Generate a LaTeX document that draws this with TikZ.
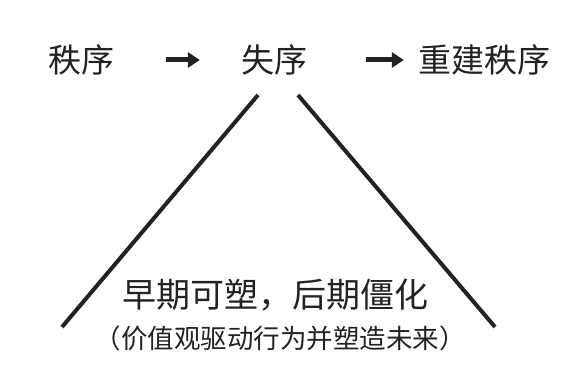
\documentclass[tikz,border=0pt]{standalone}
\usepackage{fontspec}
\setmainfont{Noto Sans CJK SC}
\usepackage{xcolor}
\usetikzlibrary{arrows.meta, positioning}

\begin{document}
\begin{tikzpicture}[
    x=1pt, y=-1pt,
    word/.style={inner sep=0pt, text=ink, font=\fontsize{33}{38}\selectfont},
    flow/.style={ink, line width=5pt, -{Triangle[length=12pt, width=15pt]}},
    side/.style={ink, line width=4pt}
]
% Define colors
\definecolor{ink}{RGB}{34,34,34}

\useasboundingbox (0,0) rectangle (565,377);

% Top row: stages
\node[word] (order) at (81,60) {秩序};
\node[word] (disorder) at (274,60) {失序};
\node[word] (rebuild) at (484,60) {重建秩序};

\draw[flow, shorten <=52pt, shorten >=41pt] (order.east) -- (disorder.west);
\draw[flow, shorten <=59pt, shorten >=14pt] (disorder.east) -- (rebuild.west);

% Inverted V
\coordinate (leftTop) at (258,95);
\coordinate (leftEnd) at (62,327);
\coordinate (rightTop) at (298,95);
\coordinate (rightEnd) at (495,327);
\draw[side] (leftTop) -- (leftEnd);
\draw[side] (rightTop) -- (rightEnd);

% Bottom captions
\node[word, font=\fontsize{34}{40}\selectfont] (plastic) at (275,295) {早期可塑，后期僵化};
\node[word, font=\fontsize{26.5}{32}\selectfont] (values) at (280,338) {（价值观驱动行为并塑造未来）};

\end{tikzpicture}
\end{document}
